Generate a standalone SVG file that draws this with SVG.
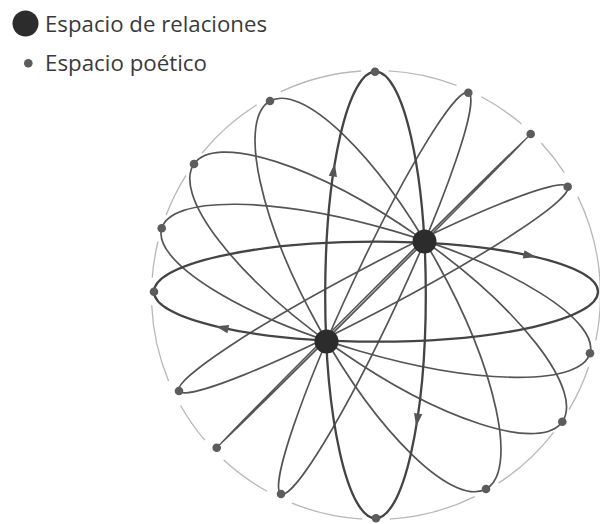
<svg xmlns="http://www.w3.org/2000/svg" xmlns:xlink="http://www.w3.org/1999/xlink" width="600" height="524" viewBox="0 0 600 524">
<style>
.bg{fill:#ffffff}
.orb{fill:none;stroke:#555555;stroke-width:1.7}
.main{fill:none;stroke:#444444;stroke-width:2.3}
.rim{fill:none;stroke:#b8b8b8;stroke-width:1.3}
.pt{fill:#5c5c5c}
.focus{fill:#2c2c2c}
.arr{fill:#555555}
.lbl{font-family:"Open Sans","Noto Sans","Liberation Sans",sans-serif;font-size:22px;fill:#3a3a3a}
</style>
<defs>
<path id="ah" d="M6.5,0 L-6.5,-4.2 L-6.5,4.2 Z"/>
</defs>
<rect class="bg" x="0" y="0" width="600" height="524"/>

<g id="legend">
<circle class="focus" cx="25.5" cy="23.5" r="13"/>
<text class="lbl" x="45" y="31.5" textLength="222" lengthAdjust="spacingAndGlyphs">Espacio de relaciones</text>
<circle class="pt" cx="28.3" cy="63.3" r="4.3"/>
<text class="lbl" x="45" y="70.5" textLength="162" lengthAdjust="spacingAndGlyphs">Espacio poético</text>
</g>

<g id="rim">
<path class="rim" d="M388.5,70.9 A224.5,224.5 0 0 1 456.5,85.4"/>
<path class="rim" d="M481.4,96.8 A224.5,224.5 0 0 1 521.5,124"/>
<path class="rim" d="M541.3,143 A224.5,224.5 0 0 1 564.3,172.7"/>
<path class="rim" d="M577.8,196.6 A224.5,224.5 0 0 1 595.8,340.5"/>
<path class="rim" d="M588.6,367 A224.5,224.5 0 0 1 569,409.6"/>
<path class="rim" d="M553.6,432.3 A224.5,224.5 0 0 1 498.6,483.1"/>
<path class="rim" d="M474.8,496.6 A224.5,224.5 0 0 1 389.7,519.1"/>
<path class="rim" d="M362.3,519.1 A224.5,224.5 0 0 1 291.9,503.2"/>
<path class="rim" d="M267.2,491.3 A224.5,224.5 0 0 1 223.7,460"/>
<path class="rim" d="M204.8,440.2 A224.5,224.5 0 0 1 180.6,405.5"/>
<path class="rim" d="M168.6,380.9 A224.5,224.5 0 0 1 151.7,305.2"/>
<path class="rim" d="M152.2,277.8 A224.5,224.5 0 0 1 158,241.5"/>
<path class="rim" d="M166.1,215.3 A224.5,224.5 0 0 1 186,175.4"/>
<path class="rim" d="M202,153.1 A224.5,224.5 0 0 1 256.7,104.8"/>
<path class="rim" d="M280.8,91.7 A224.5,224.5 0 0 1 361.1,71"/>
</g>

<g id="connectors">
<ellipse class="orb" cx="374.7" cy="293.3" rx="221.4" ry="24.4" transform="rotate(-65 374.7 293.3)"/>
<ellipse class="orb" cx="373.7" cy="290.8" rx="221.9" ry="1.1" transform="rotate(-44.96 373.7 290.8)"/>
<ellipse class="orb" cx="373.35" cy="288.85" rx="219.6" ry="22.5" transform="rotate(-27.7 373.35 288.85)"/>
<ellipse class="orb" cx="375.85" cy="290.8" rx="223.1" ry="62.4" transform="rotate(16.27 375.85 290.8)"/>
<ellipse class="orb" cx="378.15" cy="292.85" rx="224.75" ry="69.2" transform="rotate(34.98 378.15 292.85)"/>
<ellipse class="orb" cx="378" cy="295" rx="222" ry="67.4" transform="rotate(60.9 378 295)"/>
<ellipse class="main" cx="375.5" cy="295" rx="50.3" ry="223.3"/>
<ellipse class="main" cx="376" cy="291.7" rx="222" ry="50"/>
<use xlink:href="#ah" class="arr" transform="translate(333.8 170) rotate(-81.4)"/>
<use xlink:href="#ah" class="arr" transform="translate(417.2 420) rotate(98.6)"/>
<use xlink:href="#ah" class="arr" transform="translate(530 255.7) rotate(12.2)"/>
<use xlink:href="#ah" class="arr" transform="translate(222 327.7) rotate(192.2)"/>
</g>

<g id="poetic-spaces">
<circle id="p1" class="pt" cx="375" cy="71.7" r="4.3"/>
<circle id="p2" class="pt" cx="468.3" cy="92.7" r="4.3"/>
<circle id="p3" class="pt" cx="530.7" cy="134" r="4.3"/>
<circle id="p4" class="pt" cx="567.7" cy="186.7" r="4.3"/>
<circle id="p6" class="pt" cx="590" cy="353.3" r="4.3"/>
<circle id="p7" class="pt" cx="562.3" cy="421.7" r="4.3"/>
<circle id="p8" class="pt" cx="486" cy="489" r="4.3"/>
<circle id="p9" class="pt" cx="376" cy="518.3" r="4.3"/>
<circle id="p10" class="pt" cx="281" cy="494" r="4.3"/>
<circle id="p11" class="pt" cx="216.7" cy="447.7" r="4.3"/>
<circle id="p12" class="pt" cx="179" cy="391" r="4.3"/>
<circle id="p13" class="pt" cx="154" cy="291.7" r="4.3"/>
<circle id="p14" class="pt" cx="161.7" cy="228.3" r="4.3"/>
<circle id="p15" class="pt" cx="194" cy="164" r="4.3"/>
<circle id="p16" class="pt" cx="270" cy="101" r="4.3"/>
</g>

<g id="relation-spaces">
<circle id="focusA" class="focus" cx="424.5" cy="241.5" r="12"/>
<circle id="focusB" class="focus" cx="326.5" cy="341.5" r="12"/>
</g>
</svg>
